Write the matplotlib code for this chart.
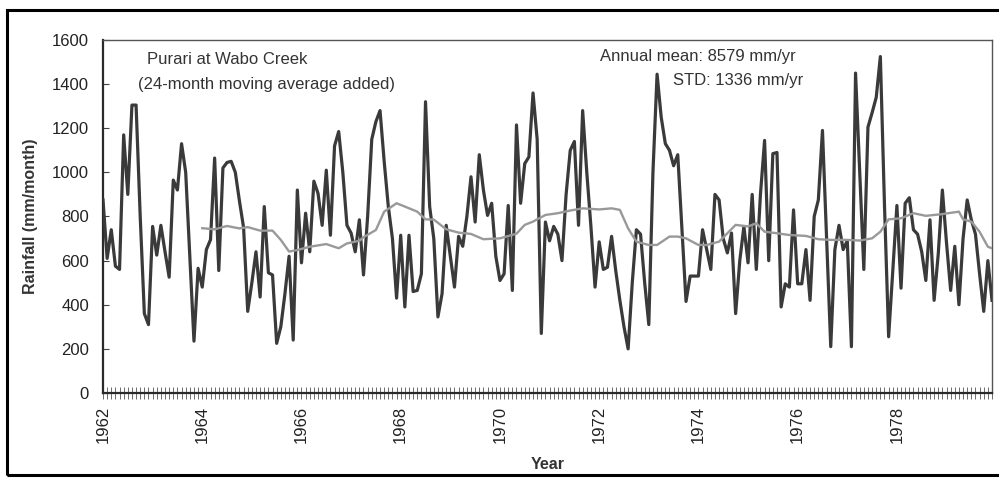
import numpy as np
import matplotlib
matplotlib.use("Agg")
import matplotlib.pyplot as plt
from matplotlib.patches import Rectangle

plt.rcParams['font.family'] = ['Liberation Sans', 'DejaVu Sans']

# Monthly rainfall, Jan 1962 .. Dec 1979 (mm/month)
rain_1962_1967 = [875, 610, 740, 575, 560, 1170, 900, 1305, 1305, 800, 360, 310,
                  755, 625, 760, 640, 525, 965, 920, 1130, 1000, 620, 235, 565,
                  480, 650, 695, 1065, 555, 1020, 1045, 1050, 1000, 870, 750, 370,
                  500, 640, 435, 845, 545, 535, 225, 300, 450, 620, 240, 920,
                  590, 815, 640, 960, 905, 760, 1010, 715, 1120, 1185, 1000, 760,
                  725, 640, 785, 535, 800, 1150, 1230, 1280, 1050, 845, 700, 430]
rain_1968_1973 = [715, 390, 715, 460, 465, 540, 1320, 845, 700, 345, 450, 760,
                  620, 480, 710, 665, 800, 980, 775, 1080, 920, 805, 860, 620,
                  510, 540, 850, 465, 1215, 860, 1040, 1070, 1360, 1150, 270, 775,
                  690, 755, 720, 600, 900, 1100, 1140, 760, 1280, 1000, 755, 480,
                  685, 560, 570, 710, 555, 420, 300, 200, 500, 740, 720, 500,
                  310, 1000, 1445, 1250, 1130, 1100, 1030, 1080, 750, 415, 530, 530]
rain_1974_1979 = [530, 740, 650, 560, 900, 875, 700, 635, 725, 360, 600, 755,
                  590, 900, 560, 900, 1145, 600, 1085, 1090, 390, 495, 480, 830,
                  495, 495, 650, 420, 800, 875, 1190, 700, 210, 650, 760, 650,
                  690, 210, 1450, 1000, 560, 1205, 1270, 1340, 1525, 850, 255, 550,
                  850, 475, 860, 885, 740, 720, 640, 510, 785, 420, 630, 920,
                  680, 465, 665, 400, 700, 875, 785, 720, 540, 370, 600, 420]
rainfall = rain_1962_1967 + rain_1968_1973 + rain_1974_1979

# 24-month moving average (month index since Jan 1962)
ma_month = [24, 27, 30, 33, 35, 38, 41, 43, 45, 47, 50, 54, 57, 59, 62, 63, 66, 68,
            71, 73, 76, 78, 80, 83, 86, 89, 92, 96, 100, 102, 104, 107, 110, 113,
            116, 120, 123, 125, 127, 129, 132, 134, 137, 139, 141, 144, 146, 149,
            151, 153, 156, 158, 160, 163, 166, 170, 173, 176, 180, 183, 186, 188,
            190, 193, 196, 199, 201, 203, 207, 208, 210, 212, 214, 215]
ma_value = [747, 742, 757, 746, 752, 736, 736, 694, 641, 648, 663, 675, 656, 678,
            690, 706, 739, 822, 860, 845, 822, 787, 786, 742, 727, 721, 697, 701,
            722, 762, 777, 807, 815, 827, 837, 832, 837, 830, 746, 686, 671, 671,
            709, 709, 701, 671, 671, 686, 724, 762, 755, 769, 731, 724, 716, 712,
            697, 694, 694, 691, 701, 731, 787, 792, 815, 803, 807, 811, 822, 787,
            777, 731, 663, 656]

year_labels = ['1962', '1964', '1966', '1968', '1970', '1972', '1974', '1976', '1978']
y_ticks = [0, 200, 400, 600, 800, 1000, 1200, 1400, 1600]

W, H = 999, 480
fig = plt.figure(figsize=(W / 100, H / 100), dpi=100)
fig.patch.set_facecolor('white')

L, R, T, B = 103, 992, 40, 393
ax = fig.add_axes([L / W, 1 - B / H, (R - L) / W, (B - T) / H])

months = np.arange(len(rainfall))
ax.plot(months, rainfall, color='#3a3a3a', lw=2.3, solid_joinstyle='round', zorder=3)
ax.plot(ma_month, ma_value, color='#999999', lw=1.7, zorder=4)

ax.set_xlim(0, len(rainfall) - 1)
ax.set_ylim(0, 1600)
ax.set_yticks(y_ticks)
ax.set_yticklabels([str(v) for v in y_ticks], fontsize=12, color='#222222')
ax.set_xticks(np.arange(len(year_labels)) * 24)
ax.set_xticklabels(year_labels, rotation=90, fontsize=12, color='#222222')
ax.set_xticks(months, minor=True)
ax.tick_params(axis='x', which='both', direction='inout', length=8, width=0.6,
               color='#555555', pad=5)
ax.tick_params(axis='y', direction='in', length=4, width=0.8, color='#444444', pad=10)

for side in ['left', 'bottom']:
    ax.spines[side].set_color('#2a2a2a')
    ax.spines[side].set_linewidth(1.6)
for side in ['top', 'right']:
    ax.spines[side].set_color('#555555')
    ax.spines[side].set_linewidth(1.0)

ax.set_ylabel('Rainfall (mm/month)', fontsize=11.5, fontweight='bold', color='#333333',
              labelpad=10)
ax.set_xlabel('Year', fontsize=11.5, fontweight='bold', color='#333333', labelpad=10)

def ftext(x, y, s, **kw):
    fig.text(x / W, 1 - y / H, s, va='center', ha='left', fontsize=12, color='#333333', **kw)

ftext(147, 59, 'Purari at Wabo Creek')
ftext(138, 85, '(24-month moving average added)')
ftext(600, 56, 'Annual mean: 8579 mm/yr')
ftext(673, 80, 'STD: 1336 mm/yr')

fig.patches.append(Rectangle((7 / W, 1 - 475 / H), (1010 - 7) / W, (475 - 10) / H,
                             transform=fig.transFigure, fill=False,
                             edgecolor='black', lw=2.2))

fig.savefig('out.png', dpi=100, facecolor='white')
